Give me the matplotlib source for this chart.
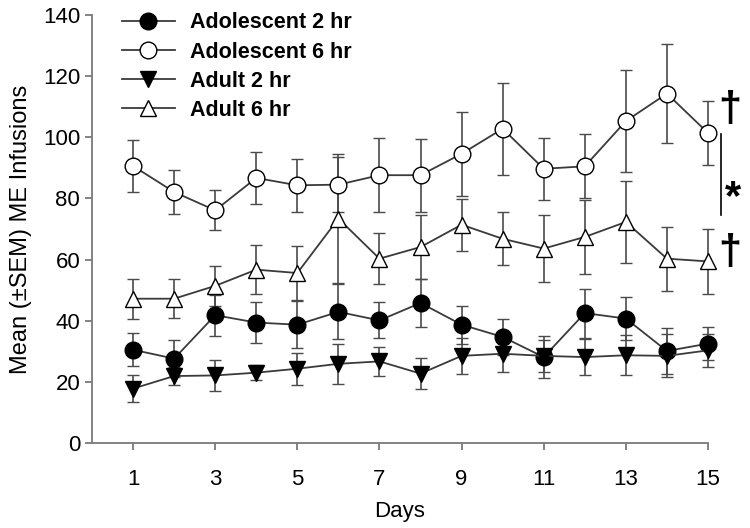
import numpy as np
import matplotlib.pyplot as plt

plt.rcParams['font.family'] = ['Liberation Sans', 'DejaVu Sans']

days = np.arange(1, 16)

adol2 = [30.5, 27.6, 41.8, 39.4, 38.7, 42.9, 40.1, 45.8, 38.7, 34.7, 28.1, 42.5, 40.7, 30.1, 32.5]
adol2_sem = [5.4, 6.0, 6.7, 6.8, 7.7, 9.0, 5.9, 8.0, 6.2, 5.8, 7.0, 8.0, 7.0, 7.6, 5.5]

adol6 = [90.6, 82.1, 76.1, 86.7, 84.3, 84.5, 87.6, 87.6, 94.6, 102.8, 89.7, 90.5, 105.3, 114.3, 101.4]
adol6_sem = [8.6, 7.3, 6.5, 8.5, 8.7, 9.1, 12.2, 11.9, 13.7, 15.1, 10.2, 10.5, 16.8, 16.1, 10.4]

adult2 = [17.8, 21.9, 22.1, 23.0, 24.3, 25.9, 26.7, 22.7, 28.5, 29.2, 28.5, 28.1, 28.7, 28.5, 30.3]
adult2_sem = [4.3, 3.0, 5.0, 2.5, 5.3, 6.5, 4.7, 5.0, 6.0, 6.0, 5.3, 6.0, 6.5, 7.0, 5.5]

adult6 = [47.2, 47.2, 51.4, 56.7, 55.6, 73.4, 60.3, 64.1, 71.4, 66.8, 63.6, 67.4, 72.3, 60.3, 59.4]
adult6_sem = [6.5, 6.3, 6.5, 8.0, 8.7, 21.0, 8.3, 10.5, 8.5, 8.7, 11.0, 12.0, 13.5, 10.5, 10.5]

labels = ['Adolescent 2 hr', 'Adolescent 6 hr', 'Adult 2 hr', 'Adult 6 hr']

fig = plt.figure(figsize=(7.5, 5.28), dpi=100)
ax = fig.add_axes([92/750, 1 - 443/528, 616/750, 428/528])

series = [
    (adol2, adol2_sem, 'o', 'black'),
    (adol6, adol6_sem, 'o', 'white'),
    (adult2, adult2_sem, 'v', 'black'),
    (adult6, adult6_sem, '^', 'white'),
]
for (m, e, mk, fc), lab in zip(series, labels):
    ax.errorbar(days, m, yerr=e, fmt='-', marker=mk, markersize=12,
                markerfacecolor=fc, markeredgecolor='black', markeredgewidth=1.0,
                color='#3a3a3a', lw=1.3, ecolor='#4a4a4a', elinewidth=1.2,
                capsize=4.3, capthick=1.2, label=lab, clip_on=False)

ax.set_xlim(0, 15)
ax.set_ylim(0, 140)
ax.set_xticks(np.arange(1, 16, 2))
ax.set_yticks(np.arange(0, 141, 20))
for s in ['top', 'right']:
    ax.spines[s].set_visible(False)
for s in ['left', 'bottom']:
    ax.spines[s].set_color('#7a7a7a')
    ax.spines[s].set_linewidth(1.3)
ax.tick_params(axis='both', colors='#7a7a7a', labelcolor='black', labelsize=16,
               length=5, width=1.3, direction='out')
ax.tick_params(axis='x', pad=14)
ax.set_xlabel('Days', fontsize=16, labelpad=8)
ax.set_ylabel('Mean (±SEM) ME Infusions', fontsize=17, labelpad=8)

# legend handles without error bars
handles, labs = ax.get_legend_handles_labels()
handles = [h[0] for h in handles]
leg = ax.legend(handles, labs, loc='upper left', bbox_to_anchor=(0.048, 1.006),
                frameon=False, borderpad=0, borderaxespad=0, handlelength=2.5,
                handletextpad=0.7, labelspacing=0.38,
                prop={'weight': 'bold', 'size': 15.5})

# significance marks
ax.plot([15.31, 15.31], [74.6, 101.2], color='black', lw=1.2, clip_on=False)
ax.text(15.53, 109, '†', fontsize=30, fontweight='bold', ha='center', va='center')
ax.text(15.53, 62, '†', fontsize=30, fontweight='bold', ha='center', va='center')
ax.text(15.62, 80, '*', fontsize=30, fontweight='bold', ha='center', va='center')

fig.savefig('out.png', dpi=100)
